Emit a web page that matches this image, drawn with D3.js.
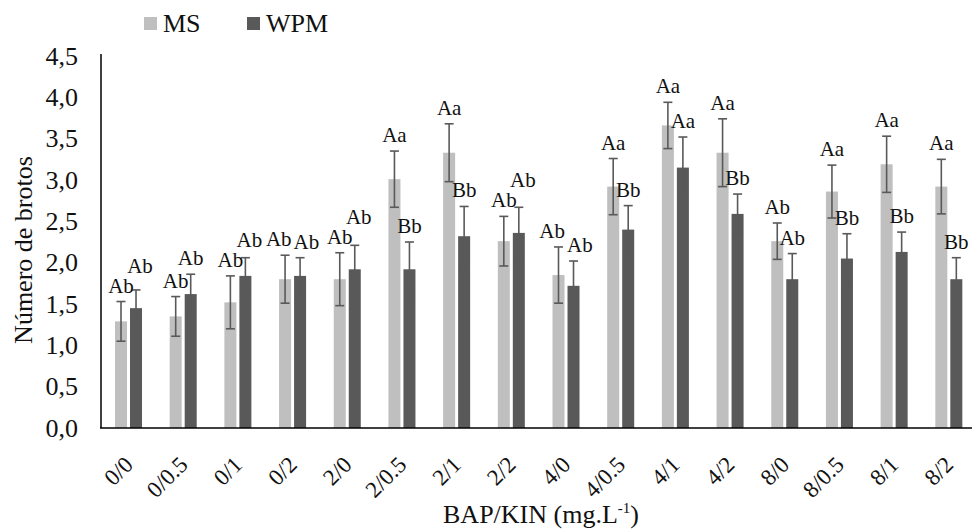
<html lang="pt">
<head>
<meta charset="utf-8">
<title>Número de brotos</title>
<script src="https://cdnjs.cloudflare.com/ajax/libs/d3/7.8.5/d3.min.js"></script>
<style>
	body { margin: 0; background-color: white; }
	svg { display: block; }
	.axis path { stroke: black; stroke-width: 1.5; }
	.axis line { display: none; }
	.ytick text { font-size: 26px; fill: #111; }
	.xtick text { font-size: 23px; fill: #111; }
	.letters { font-size: 21px; fill: #111; }
	.legend text { font-size: 26px; fill: #111; }
	.title { font-size: 26px; fill: #111; }
	.err { stroke: #595959; stroke-width: 1.6; fill: none; }
</style>
</head>
<body>
<script>
// categories (BAP/KIN, mg.L-1)
var categories = ["0/0", "0/0.5", "0/1", "0/2", "2/0", "2/0.5", "2/1", "2/2",
	"4/0", "4/0.5", "4/1", "4/2", "8/0", "8/0.5", "8/1", "8/2"];
var seriesNames = ["MS", "WPM"];

var msValues  = [1.29, 1.35, 1.52, 1.80, 1.80, 3.01, 3.33, 2.26, 1.85, 2.92, 3.66, 3.33, 2.26, 2.86, 3.19, 2.92];
var msErrors  = [0.24, 0.24, 0.32, 0.29, 0.32, 0.34, 0.35, 0.30, 0.34, 0.34, 0.28, 0.41, 0.22, 0.32, 0.34, 0.33];
var msLetters = ["Ab", "Ab", "Ab", "Ab", "Ab", "Aa", "Aa", "Ab", "Ab", "Aa", "Aa", "Aa", "Ab", "Aa", "Aa", "Aa"];

var wpmValues  = [1.45, 1.62, 1.84, 1.84, 1.92, 1.92, 2.32, 2.36, 1.72, 2.40, 3.15, 2.59, 1.80, 2.05, 2.13, 1.80];
var wpmErrors  = [0.22, 0.24, 0.22, 0.22, 0.29, 0.33, 0.36, 0.31, 0.30, 0.29, 0.37, 0.24, 0.31, 0.30, 0.24, 0.26];
var wpmLetters = ["Ab", "Ab", "Ab", "Ab", "Ab", "Bb", "Bb", "Ab", "Ab", "Bb", "Aa", "Bb", "Ab", "Bb", "Bb", "Bb"];

var yTicks = [0, 0.5, 1, 1.5, 2, 2.5, 3, 3.5, 4, 4.5];

var colors = { MS: "#bfbfbf", WPM: "#595959" };
var serif = "'Liberation Serif', 'DejaVu Serif', serif";

var fullwidth = 972, fullheight = 529;
var margin = { top: 56, right: -4, bottom: 101, left: 101 };
var width = fullwidth - margin.left - margin.right;
var height = fullheight - margin.top - margin.bottom;

var svg = d3.select("body").append("svg")
	.attr("width", fullwidth)
	.attr("height", fullheight)
	.style("font-family", serif);

var g = svg.append("g")
	.attr("transform", "translate(" + margin.left + "," + margin.top + ")");

var xScale = d3.scaleBand().domain(categories).range([0, width]).padding(0);
var bw = xScale.bandwidth();
var xSub = d3.scaleBand().domain(seriesNames)
	.range([bw * 0.256, bw * 0.75]).paddingInner(0.2).paddingOuter(0);
var yScale = d3.scaleLinear().domain([0, 4.5]).range([height, 0]);

var rows = [];
categories.forEach(function(c, i) {
	rows.push({ cat: c, s: "MS", v: msValues[i], e: msErrors[i], l: msLetters[i], i: i });
	rows.push({ cat: c, s: "WPM", v: wpmValues[i], e: wpmErrors[i], l: wpmLetters[i], i: i });
});

// bars
g.selectAll("rect.bar").data(rows).enter().append("rect")
	.attr("class", "bar")
	.attr("x", function(d) { return xScale(d.cat) + xSub(d.s); })
	.attr("width", xSub.bandwidth())
	.attr("y", function(d) { return yScale(d.v); })
	.attr("height", function(d) { return height - yScale(d.v); })
	.attr("fill", function(d) { return colors[d.s]; });

// error bars
var errs = g.selectAll("g.errbar").data(rows).enter().append("g")
	.attr("class", "errbar")
	.attr("transform", function(d) {
		return "translate(" + (xScale(d.cat) + xSub(d.s) + xSub.bandwidth() / 2) + ",0)";
	});
errs.append("line").attr("class", "err")
	.attr("y1", function(d) { return yScale(d.v - d.e); })
	.attr("y2", function(d) { return yScale(d.v + d.e); });
errs.append("line").attr("class", "err")
	.attr("x1", -4.5).attr("x2", 4.5)
	.attr("y1", function(d) { return yScale(d.v + d.e); })
	.attr("y2", function(d) { return yScale(d.v + d.e); });
errs.append("line").attr("class", "err")
	.attr("x1", -4.5).attr("x2", 4.5)
	.attr("y1", function(d) { return yScale(d.v - d.e); })
	.attr("y2", function(d) { return yScale(d.v - d.e); });

// letters above error bars
var letters = g.selectAll("text.letters").data(rows).enter().append("text")
	.attr("class", "letters")
	.style("font-family", serif)
	.attr("text-anchor", "middle")
	.text(function(d) { return d.l; });

letters.each(function(d) {
	d.tx = xScale(d.cat) + xSub(d.s) + xSub.bandwidth() / 2;
	d.ty = yScale(d.v + d.e) - 9;
	d.tw = this.getComputedTextLength();
});
// keep the two letters of a group from overlapping
var lineGap = 20;
categories.forEach(function(c, i) {
	var a = rows[2 * i], b = rows[2 * i + 1];
	var overlapX = (a.tw + b.tw) / 2 - (b.tx - a.tx);
	if (overlapX <= 0 || Math.abs(a.ty - b.ty) >= lineGap) return;
	if (b.ty < a.ty) {
		b.ty = a.ty - lineGap;
		b.tx += 4;
	} else {
		a.tx -= overlapX / 2 + 1;
		b.tx += overlapX / 2 + 1;
	}
});
letters.attr("x", function(d) { return d.tx; }).attr("y", function(d) { return d.ty; });

// axes
var yAxis = d3.axisLeft(yScale).tickValues(yTicks).tickSize(0).tickPadding(23)
	.tickFormat(function(d) { return d3.format(".1f")(d).replace(".", ","); });
var yg = g.append("g").attr("class", "axis ytick").call(yAxis);
yg.select(".domain").attr("d", "M0,-2V" + height);

var xAxis = d3.axisBottom(xScale).tickSize(0).tickPadding(0);
var xg = g.append("g").attr("class", "axis xtick")
	.attr("transform", "translate(0," + height + ")")
	.call(xAxis);
xg.select(".domain").attr("d", "M-1,0H" + width);
xg.selectAll("text")
	.attr("text-anchor", "end")
	.attr("dy", null)
	.attr("transform", "translate(6,38) rotate(-45)");

// axis titles
svg.append("text").attr("class", "title")
	.attr("transform", "translate(32," + (margin.top + height / 2 + 8) + ") rotate(-90)")
	.attr("text-anchor", "middle")
	.text("Número de brotos");

var xt = svg.append("text").attr("class", "title")
	.attr("x", 541).attr("y", 523)
	.attr("text-anchor", "middle");
xt.append("tspan").text("BAP/KIN (mg.L");
xt.append("tspan").attr("dy", -10).style("font-size", "15px").text("-1");
xt.append("tspan").attr("dy", 10).text(")");

// legend
var legend = svg.append("g").attr("class", "legend");
var legendX = [144, 247];
seriesNames.forEach(function(s, i) {
	legend.append("rect")
		.attr("x", legendX[i]).attr("y", 17)
		.attr("width", 13).attr("height", 13)
		.attr("fill", colors[s]);
	legend.append("text")
		.attr("x", legendX[i] + 19).attr("y", 32)
		.text(s);
});

// d3 axes set their own font-family attribute; force the serif face everywhere
svg.selectAll("g.axis").attr("font-family", null);
svg.selectAll("text").style("font-family", serif);
</script>
</body>
</html>
